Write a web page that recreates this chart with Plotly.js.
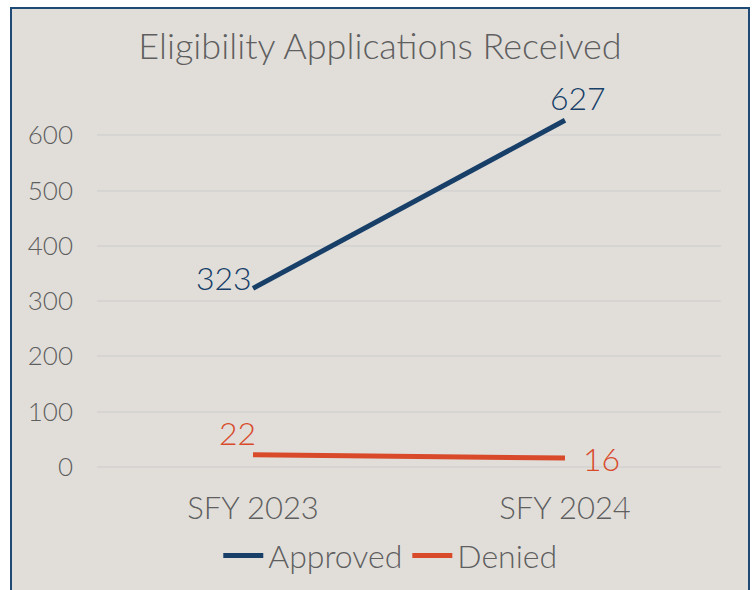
<!DOCTYPE html>
<html>
<head>
<meta charset="utf-8">
<script src="https://cdn.plot.ly/plotly-3.0.1.min.js"></script>
<style>
  html, body { margin:0; padding:0; background:#ffffff; width:754px; height:590px; overflow:hidden; }
  #frame { position:absolute; left:10px; top:7px; width:736px; height:600px; background:#E1DEDA; border:2px solid #1F4A75; }
  #chart { position:absolute; left:0; top:0; width:754px; height:590px; }
</style>
</head>
<body>
<div id="frame"></div>
<div id="chart"></div>
<script>
const categories = ["SFY 2023", "SFY 2024"];
const approved = [323, 627];
const denied = [22, 16];
const seriesNames = ["Approved", "Denied"];
const yTicks = [0, 100, 200, 300, 400, 500, 600];

const font = "Lato, 'Noto Sans', sans-serif";
const blue = "#173F68";
const red = "#D84A2A";
const gray = "#5F5F5F";

const traces = [
  { x: categories, y: approved, name: seriesNames[0], type: "scatter", mode: "lines",
    line: { color: blue, width: 5 }, hoverinfo: "skip" },
  { x: categories, y: denied, name: seriesNames[1], type: "scatter", mode: "lines",
    line: { color: red, width: 5 }, hoverinfo: "skip" }
];

const labelShifts = {
  approved: [[-29, 11], [13, 23]],
  denied: [[-16, 22], [36, 0]]
};
const annotations = [];
approved.forEach((v, i) => annotations.push({
  x: categories[i], y: v, text: String(v), showarrow: false,
  xshift: labelShifts.approved[i][0], yshift: labelShifts.approved[i][1],
  font: { family: font, size: 32, color: blue, weight: 300 }
}));
denied.forEach((v, i) => annotations.push({
  x: categories[i], y: v, text: String(v), showarrow: false,
  xshift: labelShifts.denied[i][0], yshift: labelShifts.denied[i][1],
  font: { family: font, size: 32, color: red, weight: 300 }
}));

const layout = {
  width: 754, height: 590,
  paper_bgcolor: "rgba(0,0,0,0)",
  plot_bgcolor: "rgba(0,0,0,0)",
  margin: { l: 97, r: 33, t: 91, b: 112 },
  title: { text: "Eligibility Applications Received", x: 0.504, xanchor: "center", y: 0.921, yanchor: "middle",
    yref: "container", font: { family: font, size: 36, color: gray, weight: 300 } },
  showlegend: true,
  legend: { orientation: "h", x: 0.47, xanchor: "center", y: 0.058, yanchor: "middle", yref: "container",
    font: { family: font, size: 32, color: gray, weight: 300 }, bgcolor: "rgba(0,0,0,0)", itemwidth: 40,
    tracegroupgap: 0 },
  xaxis: { type: "category", range: [-0.5, 1.5], showgrid: false, zeroline: false, showline: false,
    ticks: "", tickfont: { family: font, size: 31, color: gray, weight: 300 }, ticklabelstandoff: 9, fixedrange: true,
    automargin: false },
  yaxis: { range: [-20, 680], tickvals: yTicks, ticktext: yTicks.map(String), showgrid: true,
    gridcolor: "#D6D5D3", gridwidth: 2, zeroline: false, showline: false, ticks: "",
    tickfont: { family: font, size: 26, color: gray, weight: 300 }, ticklabelstandoff: 23, fixedrange: true,
    automargin: false },
  annotations: annotations
};

Plotly.newPlot("chart", traces, layout, { displayModeBar: false, staticPlot: true });
</script>
</body>
</html>
